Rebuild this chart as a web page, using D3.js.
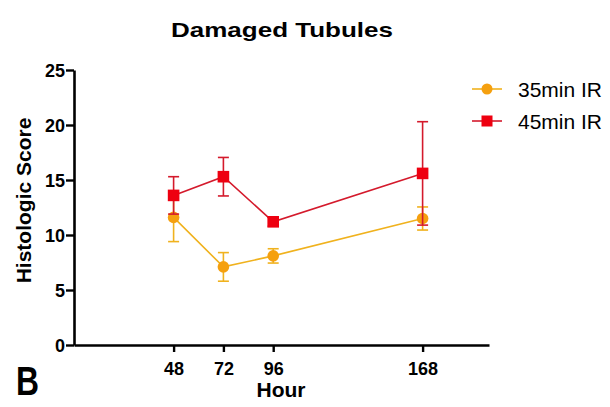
<!DOCTYPE html>
<html>
<head>
<meta charset="utf-8">
<script src="https://cdn.jsdelivr.net/npm/d3@7"></script>
<style>
  body { margin: 0; background: #fff; }
  svg { display: block; font-family: "Liberation Sans", Arial, sans-serif; }
</style>
</head>
<body>
<svg id="chart" width="610" height="407"></svg>
<script>
// data
const hours = [48, 72, 96, 168];
const yTicks = [0, 5, 10, 15, 20, 25];
const ir35 = [11.6, 7.1, 8.1, 11.5];
const ir35Err = [2.2, 1.3, 0.65, 1.05];
const ir45 = [13.6, 15.3, 11.2, 15.6];
const ir45Err = [1.7, 1.75, 0.4, 4.7];
const seriesNames = ['35min IR', '45min IR'];

const svg = d3.select('#chart');

const x = d3.scaleLinear().domain([0, 200]).range([74, 489]);
const y = d3.scaleLinear().domain([0, 25]).range([345, 70]);

const series = [
  { name: seriesNames[0], values: ir35, err: ir35Err, fill: '#f5a00f', line: '#f0b21e', shape: 'circle' },
  { name: seriesNames[1], values: ir45, err: ir45Err, fill: '#ee0010', line: '#d41a2c', shape: 'square' }
];

// title (the source image is stretched sideways, so scale the glyphs)
svg.append('text')
  .attr('transform', 'translate(282,37) scale(1.3,1)')
  .attr('text-anchor', 'middle')
  .style('font-size', '20px').style('font-weight', 'bold')
  .text('Damaged Tubules');

// axes
const yAxis = svg.append('g')
  .attr('transform', 'translate(74,0)')
  .call(d3.axisLeft(y).tickValues(yTicks).tickSize(8).tickSizeOuter(0).tickPadding(1));

const xAxis = svg.append('g')
  .attr('transform', 'translate(0,345)')
  .call(d3.axisBottom(x).tickValues(hours).tickSize(7).tickSizeOuter(0).tickPadding(10));

[yAxis, xAxis].forEach(g => {
  g.select('.domain').attr('stroke', '#000').attr('stroke-width', 2.6);
  g.selectAll('.tick line').attr('stroke', '#000').attr('stroke-width', 2.4);
  g.selectAll('.tick text')
    .attr('fill', '#000')
    .style('font-family', '"Liberation Sans", Arial, sans-serif')
    .style('font-size', '18px').style('font-weight', 'bold');
});
yAxis.selectAll('.tick text').attr('dy', '0.36em');

// axis labels
svg.append('text')
  .attr('transform', `translate(31,${(118 + 283) / 2}) rotate(-90)`)
  .attr('text-anchor', 'middle')
  .style('font-size', '21px').style('font-weight', 'bold')
  .text('Histologic Score');

svg.append('text')
  .attr('x', 281).attr('y', 397)
  .attr('text-anchor', 'middle')
  .style('font-size', '21px').style('font-weight', 'bold')
  .text('Hour');

svg.append('text')
  .attr('x', 16).attr('y', 395)
  .attr('textLength', 23).attr('lengthAdjust', 'spacingAndGlyphs')
  .style('font-size', '40px').style('font-weight', 'bold')
  .text('B');

// series
const line = d3.line().x(d => x(d.h)).y(d => y(d.v));

function marker(g, s, cx, cy, r) {
  if (s.shape === 'circle') {
    g.append('circle').attr('cx', cx).attr('cy', cy).attr('r', r).attr('fill', s.fill);
  } else {
    g.append('rect').attr('x', cx - r).attr('y', cy - r)
      .attr('width', 2 * r).attr('height', 2 * r).attr('fill', s.fill);
  }
}

series.forEach(s => {
  const pts = hours.map((h, i) => ({ h, v: s.values[i], e: s.err[i] }));
  const g = svg.append('g');

  // error bars
  pts.forEach(p => {
    const cx = x(p.h), top = y(p.v + p.e), bot = y(p.v - p.e);
    g.append('line').attr('x1', cx).attr('x2', cx).attr('y1', top).attr('y2', bot)
      .attr('stroke', s.line).attr('stroke-width', 1.6);
    [top, bot].forEach(yy => {
      g.append('line').attr('x1', cx - 5.5).attr('x2', cx + 5.5).attr('y1', yy).attr('y2', yy)
        .attr('stroke', s.line).attr('stroke-width', 1.6);
    });
  });

  g.append('path').datum(pts).attr('d', line)
    .attr('fill', 'none').attr('stroke', s.line).attr('stroke-width', 1.6);

  pts.forEach(p => marker(g, s, x(p.h), y(p.v), 5.8));
});

// legend
const legendY = [89, 121];
series.forEach((s, i) => {
  const g = svg.append('g');
  g.append('line').attr('x1', 472).attr('x2', 502).attr('y1', legendY[i]).attr('y2', legendY[i])
    .attr('stroke', s.line).attr('stroke-width', 1.6);
  marker(g, s, 487, legendY[i], 5.5);
  g.append('text').attr('x', 518).attr('y', legendY[i] + 8)
    .style('font-size', '21px')
    .text(s.name);
});
</script>
</body>
</html>
